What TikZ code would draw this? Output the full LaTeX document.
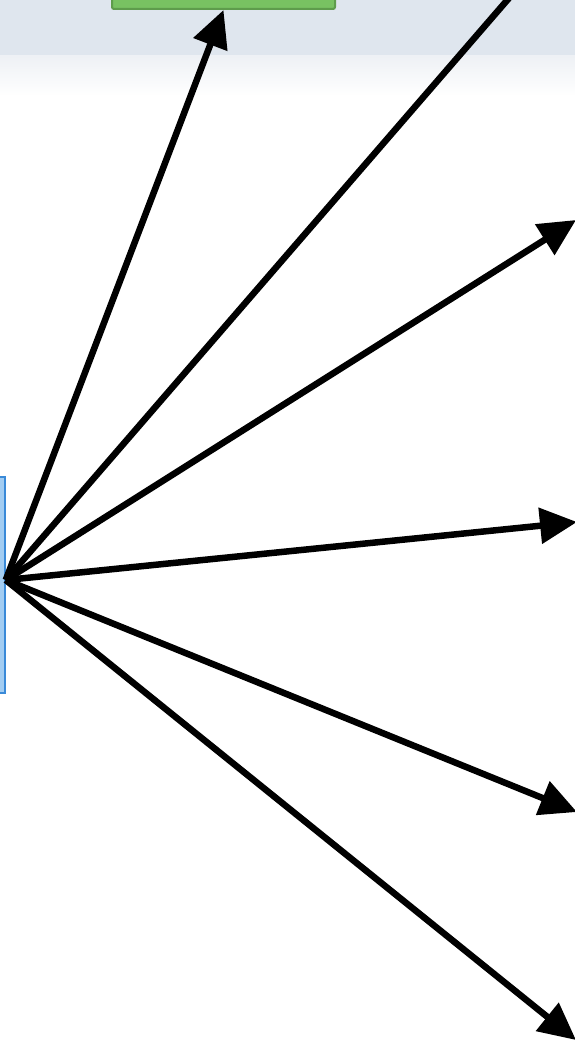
\documentclass[tikz,border=0pt]{standalone}
\usepackage{xcolor}
\usepackage{tikz}
\usetikzlibrary{positioning, arrows.meta}
\definecolor{bandgray}{HTML}{DFE6EE}
\definecolor{bandlight}{HTML}{EEF1F5}
\definecolor{leafgreen}{HTML}{78C262}
\definecolor{leafedge}{HTML}{5E9C4C}
\definecolor{skyfill}{HTML}{A3CDF2}
\definecolor{skyedge}{HTML}{3A8AD8}
\tikzset{
  fanarrow/.style={line width=6.5pt,-{Triangle[length=37pt,width=35pt]}},
  greenbox/.style={draw=leafedge,fill=leafgreen,line width=2pt,rounded corners=2pt,minimum width=223pt,minimum height=40pt},
  bluebox/.style={draw=skyedge,fill=skyfill,line width=1.5pt,minimum width=60pt,minimum height=216pt}
}
\begin{document}
\begin{tikzpicture}[x=1pt,y=-1pt]
  \useasboundingbox(0,0)rectangle(575,1046);
  \clip(0,0)rectangle(575,1046);
  % header band
  \fill[bandgray](0,0)rectangle(575,56);
  \shade[top color=bandlight,bottom color=white](0,56)rectangle(575,96);
  \node[greenbox](goal)at(223.5,-11){};
  \node[bluebox](src)at(-25,585){};
  \coordinate(hub)at([yshift=5pt]src.east);
  \coordinate(t2)at(535,-32);
  \coordinate(t3)at(576,220);
  \coordinate(t4)at(577,522);
  \coordinate(t5)at(577,812);
  \coordinate(t6)at(576,1040);
  \draw[fanarrow](hub)--(goal.south);
  \draw[line width=6.5pt](hub)--(t2);
  \draw[fanarrow](hub)--(t3);
  \draw[fanarrow](hub)--(t4);
  \draw[fanarrow](hub)--(t5);
  \draw[fanarrow](hub)--(t6);
\end{tikzpicture}
\end{document}
